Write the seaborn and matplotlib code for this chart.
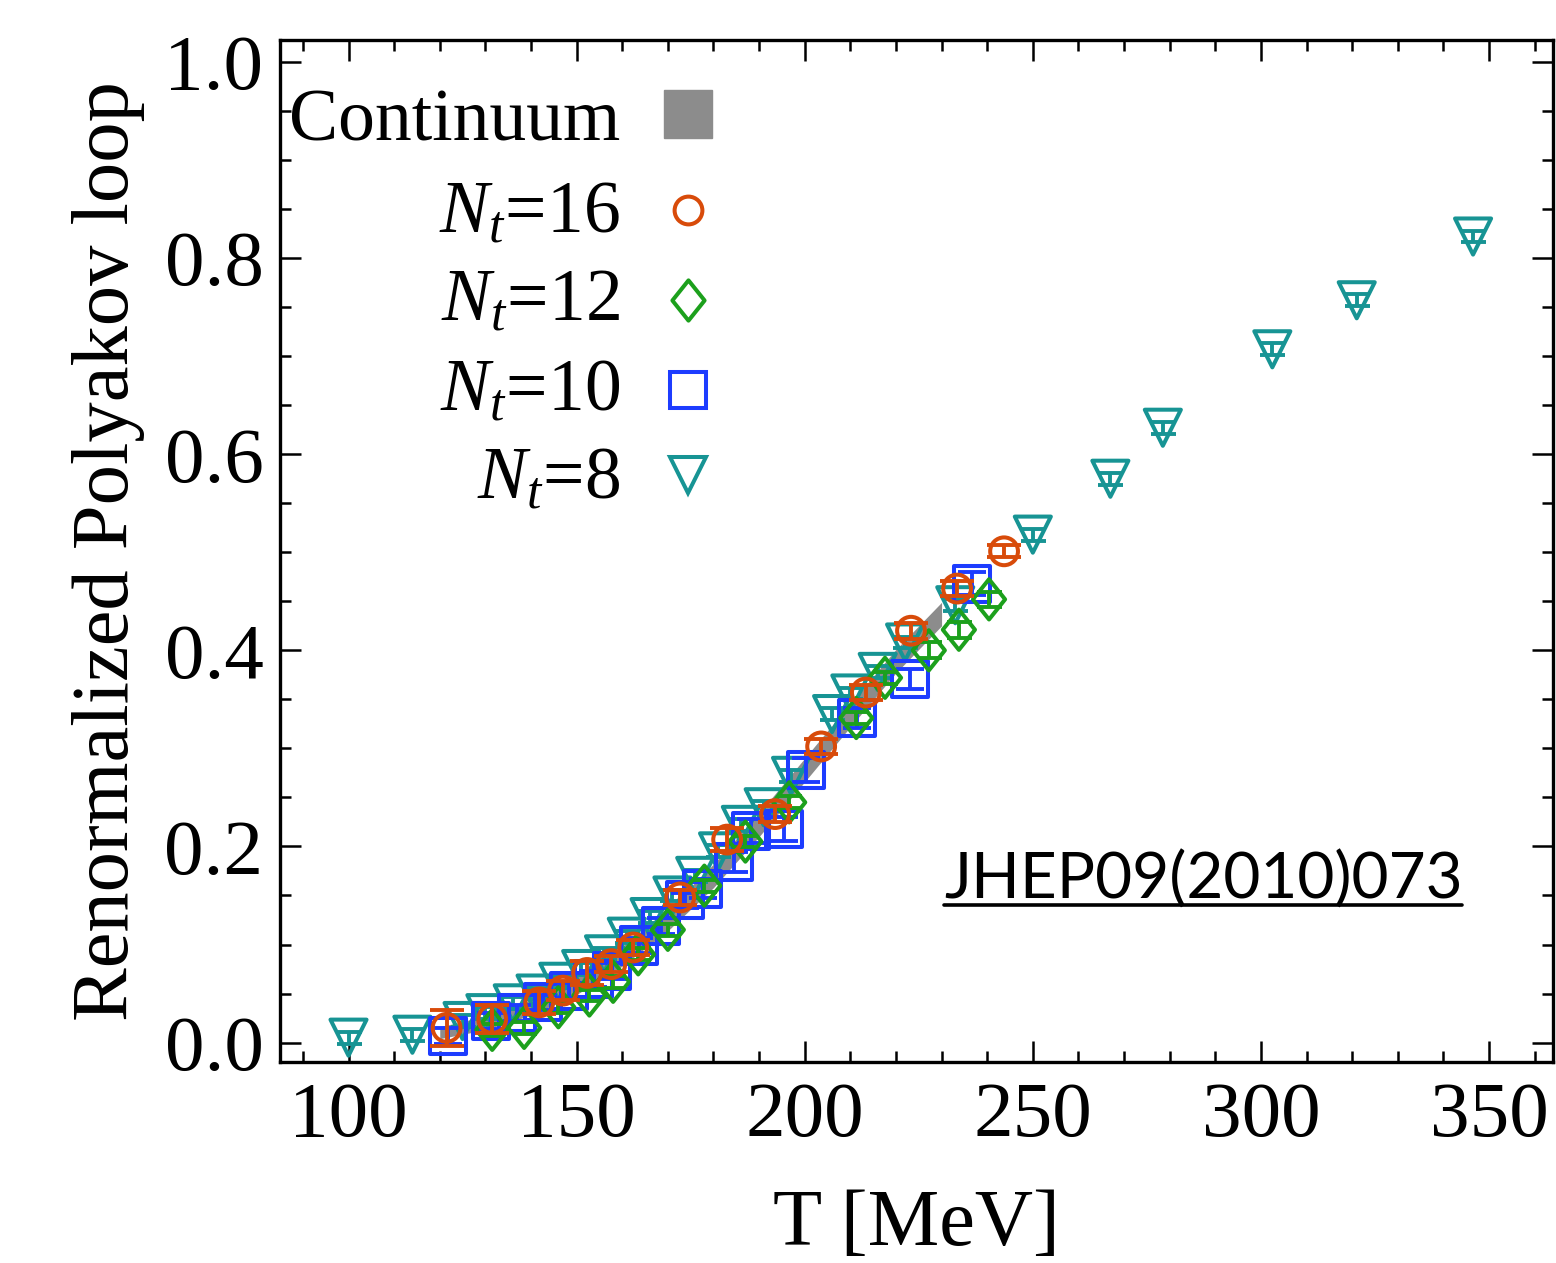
import numpy as np
import matplotlib
matplotlib.use("Agg")
import matplotlib.pyplot as plt
from matplotlib.path import Path
from matplotlib.ticker import MultipleLocator
import seaborn as sns

# ---------------- data ----------------
cont_T = [120, 130, 140, 150, 160, 170, 180, 190, 200, 210, 220, 230]
cont_lo = [0.004, 0.013, 0.028, 0.049, 0.078, 0.114, 0.158, 0.210, 0.266, 0.322, 0.377, 0.425]
cont_hi = [0.016, 0.027, 0.044, 0.067, 0.098, 0.136, 0.182, 0.234, 0.290, 0.346, 0.401, 0.449]

nt16_T = [121.5, 131.5, 141.8, 147.0, 152.3, 157.6, 162.4, 172.7, 183.0, 193.5, 203.6, 213.4, 223.3, 233.4, 243.7]
nt16_L = [0.015, 0.024, 0.041, 0.053, 0.071, 0.080, 0.097, 0.148, 0.207, 0.233, 0.302, 0.357, 0.420, 0.463, 0.501]
nt16_err = [0.018, 0.014, 0.012, 0.010, 0.012, 0.008, 0.008, 0.008, 0.012, 0.008, 0.008, 0.008, 0.008, 0.008, 0.006]

nt12_T = [131.5, 138.5, 146.0, 152.8, 158.0, 163.5, 170.0, 178.0, 187.0, 196.6, 211.3, 217.6, 227.2, 233.8, 240.4]
nt12_L = [0.013, 0.015, 0.036, 0.048, 0.062, 0.090, 0.115, 0.160, 0.205, 0.245, 0.331, 0.372, 0.400, 0.421, 0.452]
nt12_err = [0.006, 0.006, 0.006, 0.006, 0.006, 0.006, 0.006, 0.006, 0.006, 0.006, 0.006, 0.006, 0.008, 0.008, 0.008]

nt10_T = [121.9, 131.3, 137.0, 142.7, 148.4, 153.7, 157.8, 163.7, 168.5, 173.8, 177.6, 184.5, 188.2, 195.5, 200.3, 211.5, 223.0, 236.7]
nt10_L = [0.007, 0.022, 0.030, 0.041, 0.053, 0.065, 0.073, 0.099, 0.119, 0.145, 0.157, 0.184, 0.216, 0.218, 0.278, 0.331, 0.371, 0.468]
nt10_err = [0.008, 0.008, 0.008, 0.008, 0.008, 0.008, 0.008, 0.008, 0.008, 0.008, 0.010, 0.010, 0.012, 0.012, 0.012, 0.010, 0.010, 0.012]

nt8_T = [100, 114, 125, 130, 136, 141, 146, 151, 156, 161, 166, 171, 176, 181, 186, 191, 197, 206, 210, 216, 222, 233, 250, 267, 278.5, 302.5, 321, 346.5]
nt8_L = [0.005, 0.008, 0.022, 0.030, 0.040, 0.050, 0.062, 0.075, 0.090, 0.108, 0.128, 0.150, 0.170, 0.195, 0.222, 0.240, 0.272, 0.335, 0.356, 0.378, 0.408, 0.446, 0.518, 0.575, 0.627, 0.707, 0.757, 0.822]
nt8_err = [0.006] * 28

legend_labels = ["Continuum", r"$N_t$=16", r"$N_t$=12", r"$N_t$=10", r"$N_t$=8"]
x_ticks = [100, 150, 200, 250, 300, 350]
y_ticks = [0.0, 0.2, 0.4, 0.6, 0.8, 1.0]

# ---------------- style ----------------
sns.set_theme(style="ticks")
plt.rcParams["font.family"] = ["Liberation Serif", "DejaVu Serif"]
plt.rcParams["mathtext.fontset"] = "custom"
plt.rcParams["mathtext.rm"] = "Liberation Serif"
plt.rcParams["mathtext.it"] = "Liberation Serif:italic"
for k in ["text.color", "axes.labelcolor", "xtick.color", "ytick.color", "axes.edgecolor"]:
    plt.rcParams[k] = "black"

C_ORANGE = "#d84b0a"
C_GREEN = "#1ca01c"
C_BLUE = "#1d3cff"
C_TEAL = "#179494"
C_GRAY = "#8c8c8c"

diamond = Path([(0, 1), (0.8, 0), (0, -1), (-0.8, 0), (0, 1)],
               [Path.MOVETO, Path.LINETO, Path.LINETO, Path.LINETO, Path.CLOSEPOLY])

fig = plt.figure(figsize=(15.56, 12.63), dpi=100)
ax = fig.add_axes([0.18, 0.159, 0.818, 0.809])

ax.fill_between(cont_T, cont_lo, cont_hi, color=C_GRAY, lw=0, zorder=1)

LW = 2.9
series = [
    (nt8_T, nt8_L, nt8_err, C_TEAL, "v", 26, 2, 9),
    (nt10_T, nt10_L, nt10_err, C_BLUE, "s", 26, 3, 10),
    (nt12_T, nt12_L, nt12_err, C_GREEN, diamond, 29, 4, 9),
    (nt16_T, nt16_L, nt16_err, C_ORANGE, "o", 20, 5, 12),
]
for T, L, E, col, mk, ms, z, cs in series:
    ax.errorbar(T, L, yerr=E, fmt="none", ecolor=col, elinewidth=2.8,
                capsize=cs, capthick=2.8, zorder=z)
    sns.scatterplot(x=T, y=L, marker=mk, s=ms ** 2, facecolors="none",
                    edgecolor=col, linewidth=LW, ax=ax, zorder=z, legend=False)

ax.set_xlim(85, 364)
ax.set_ylim(-0.02, 1.022)
ax.set_xticks(x_ticks)
ax.set_yticks(y_ticks)
ax.set_xticklabels([str(v) for v in x_ticks])
ax.set_yticklabels([f"{v:.1f}" for v in y_ticks])
ax.xaxis.set_minor_locator(MultipleLocator(10))
ax.yaxis.set_minor_locator(MultipleLocator(0.05))
ax.tick_params(which="both", direction="in", top=True, right=True, width=1.8, color="black")
ax.tick_params(which="major", length=15, labelsize=57)
ax.tick_params(which="minor", length=8)
ax.tick_params(axis="x", which="major", pad=14)
ax.tick_params(axis="y", which="major", pad=12)
for sp in ax.spines.values():
    sp.set_linewidth(2.4)
    sp.set_color("black")

ax.set_xlabel("T [MeV]", fontsize=58, labelpad=26)
ax.set_ylabel("Renormalized Polyakov loop", fontsize=58, labelpad=14)

# legend (manual, right-aligned labels)
leg_text_y = [0.902, 0.812, 0.726, 0.638, 0.552]
leg_mark_y = [0.928, 0.834, 0.746, 0.658, 0.575]
tx, mx = 0.267, 0.3205
for lab, ty in zip(legend_labels, leg_text_y):
    ax.text(tx, ty, lab, transform=ax.transAxes, ha="right", va="baseline", fontsize=53)
ax.plot([mx], [leg_mark_y[0]], marker="s", ms=34, color=C_GRAY, mec=C_GRAY,
        transform=ax.transAxes, clip_on=False, ls="none")
leg_specs = [(C_ORANGE, "o", 20), (C_GREEN, diamond, 29), (C_BLUE, "s", 26), (C_TEAL, "v", 26)]
for (col, mk, ms), my in zip(leg_specs, leg_mark_y[1:]):
    ax.plot([mx], [my], marker=mk, ms=ms, mfc="none", mec=col, mew=LW,
            transform=ax.transAxes, clip_on=False, ls="none")

# reference annotation with underline
ref = ax.text(230.5, 0.147, "JHEP09(2010)073", fontsize=46, family=["Lato", "DejaVu Sans"],
              ha="left", va="baseline")
fig.canvas.draw()
bb = ref.get_window_extent().transformed(ax.transAxes.inverted())
uy = bb.y0 + 0.004
ax.plot([bb.x0, bb.x1], [uy, uy], color="black", lw=2.6, transform=ax.transAxes)

fig.savefig("out.png", dpi=100)
